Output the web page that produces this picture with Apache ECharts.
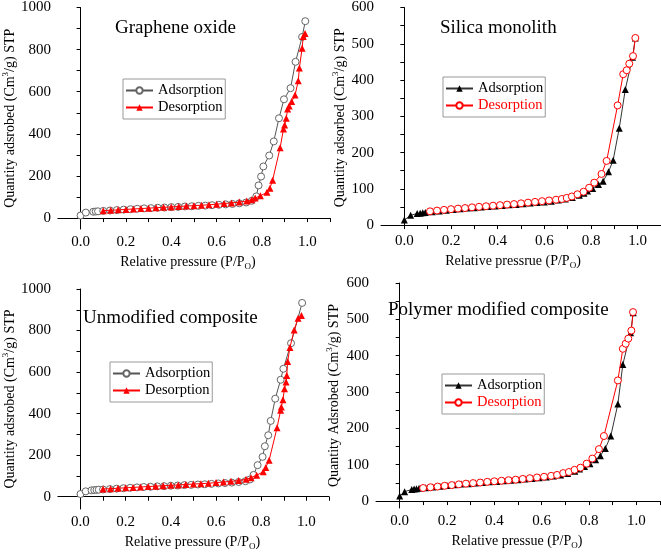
<!DOCTYPE html>
<html>
<head>
<meta charset="utf-8">
<script src="https://cdn.jsdelivr.net/npm/echarts@6/dist/echarts.min.js"></script>
<style>html,body{margin:0;padding:0;background:#fff}#c{width:661px;height:552px}</style>
</head>
<body>
<div id="c"></div>
<script>
// ---------- data ----------
const titles = ['Graphene oxide', 'Silica monolith', 'Unmodified composite', 'Polymer modified composite'];
const xTickValues = [0, 0.1, 0.2, 0.3, 0.4, 0.5, 0.6, 0.7, 0.8, 0.9, 1.0, 1.1];
const xLabelValues = [0, 0.2, 0.4, 0.6, 0.8, 1.0];
const yTickValuesA = [0, 100, 200, 300, 400, 500, 600, 700, 800, 900, 1000];
const yLabelValuesA = [0, 200, 400, 600, 800, 1000];
const yTickValuesB = [0, 50, 100, 150, 200, 250, 300, 350, 400, 450, 500, 550, 600];
const yLabelValuesB = [0, 100, 200, 300, 400, 500, 600];

// Panel 1: Graphene oxide
const goAdsP = [0.000, 0.023, 0.056, 0.067, 0.077, 0.10, 0.13, 0.16, 0.19, 0.22, 0.25, 0.28, 0.31, 0.34, 0.37, 0.40, 0.43, 0.46, 0.49, 0.52, 0.55, 0.58, 0.61, 0.64, 0.67, 0.70, 0.73, 0.755, 0.775, 0.785, 0.796, 0.806, 0.832, 0.852, 0.875, 0.897, 0.926, 0.948, 0.977, 0.991];
const goAdsV = [12, 26, 30, 31, 32, 34, 36, 38, 40, 42, 44, 46, 47, 49, 50, 52, 53, 55, 56, 58, 59, 61, 63, 65, 67, 70, 74, 82, 103, 155, 197, 245, 297, 364, 474, 564, 617, 742, 860, 935];
const goDesP = [0.10, 0.133, 0.166, 0.20, 0.233, 0.266, 0.30, 0.333, 0.366, 0.40, 0.433, 0.466, 0.50, 0.533, 0.566, 0.60, 0.633, 0.666, 0.70, 0.733, 0.755, 0.77, 0.793, 0.822, 0.835, 0.847, 0.88, 0.895, 0.90, 0.907, 0.913, 0.92, 0.931, 0.946, 0.96, 0.965, 0.977, 0.982, 0.99];
const goDesV = [35, 37, 39, 41, 43, 45, 47, 49, 51, 53, 55, 57, 59, 61, 63, 66, 69, 72, 76, 81, 87, 95, 106, 122, 142, 180, 334, 423, 442, 474, 518, 532, 553, 584, 652, 713, 806, 862, 876];

// Panel 2: Silica monolith
const smAdsP = [0.000, 0.027, 0.055, 0.068, 0.079, 0.09, 0.12, 0.15, 0.18, 0.21, 0.24, 0.27, 0.30, 0.33, 0.36, 0.39, 0.42, 0.45, 0.48, 0.51, 0.54, 0.57, 0.60, 0.63, 0.66, 0.69, 0.72, 0.75, 0.77, 0.785, 0.807, 0.832, 0.852, 0.875, 0.895, 0.921, 0.947, 0.978, 0.99];
const smAdsV = [14, 27, 32, 33, 34, 35, 37, 39, 41, 43, 45, 47, 48, 50, 51, 53, 54, 56, 57, 59, 61, 62, 64, 66, 69, 72, 76, 82, 88, 94, 101, 112, 121, 147, 179, 267, 374, 463, 516];
const smDesP = [0.11, 0.14, 0.17, 0.20, 0.23, 0.26, 0.29, 0.32, 0.35, 0.38, 0.41, 0.44, 0.47, 0.50, 0.53, 0.56, 0.59, 0.62, 0.65, 0.675, 0.696, 0.718, 0.742, 0.768, 0.792, 0.814, 0.845, 0.867, 0.914, 0.938, 0.953, 0.964, 0.98, 0.99];
const smDesV = [38, 40, 42, 44, 45.5, 47, 49, 50.5, 52, 53.5, 55, 56.5, 58, 60, 62, 64, 66, 68, 70, 72, 75, 79, 85, 92, 103, 117, 141, 177, 330, 416, 427, 445, 466, 516];

// Panel 3: Unmodified composite
const umAdsP = [0.000, 0.023, 0.049, 0.061, 0.071, 0.081, 0.10, 0.13, 0.16, 0.19, 0.22, 0.25, 0.28, 0.31, 0.34, 0.37, 0.40, 0.43, 0.46, 0.49, 0.52, 0.55, 0.58, 0.61, 0.64, 0.67, 0.70, 0.73, 0.75, 0.766, 0.784, 0.806, 0.816, 0.831, 0.842, 0.862, 0.886, 0.898, 0.932, 0.981];
const umAdsV = [13, 26, 31, 32, 33, 34, 35, 37, 39, 41, 43, 45, 47, 48, 50, 51, 53, 54, 56, 57, 59, 60, 62, 64, 66, 68, 71, 75, 83, 105, 152, 192, 243, 296, 365, 472, 563, 616, 739, 933];
const umDesP = [0.10, 0.133, 0.166, 0.20, 0.233, 0.266, 0.30, 0.333, 0.366, 0.40, 0.433, 0.466, 0.50, 0.533, 0.566, 0.60, 0.633, 0.666, 0.70, 0.733, 0.755, 0.78, 0.809, 0.82, 0.835, 0.87, 0.886, 0.889, 0.896, 0.903, 0.91, 0.913, 0.917, 0.927, 0.946, 0.963, 0.978];
const umDesV = [37, 39, 41, 43, 45, 47, 49, 51, 53, 55, 57, 59, 61, 63, 65, 68, 71, 74, 78, 84, 92, 104, 120, 141, 176, 332, 416, 432, 467, 520, 552, 584, 651, 718, 803, 859, 872];

// Panel 4: Polymer modified composite
const pmAdsP = [0.000, 0.021, 0.051, 0.061, 0.071, 0.082, 0.11, 0.14, 0.17, 0.20, 0.23, 0.26, 0.29, 0.32, 0.35, 0.38, 0.41, 0.44, 0.47, 0.50, 0.53, 0.56, 0.59, 0.62, 0.65, 0.68, 0.71, 0.74, 0.76, 0.781, 0.804, 0.828, 0.848, 0.869, 0.892, 0.922, 0.943, 0.976, 0.987];
const pmAdsV = [14, 26, 32, 33, 34, 35, 37, 39, 41, 43, 45, 47, 48, 50, 51, 53, 54, 56, 57, 59, 61, 62, 64, 66, 69, 72, 76, 82, 88, 95, 103, 114, 125, 145, 179, 267, 376, 463, 518];
const pmDesP = [0.099, 0.13, 0.16, 0.19, 0.22, 0.25, 0.28, 0.31, 0.34, 0.37, 0.40, 0.43, 0.46, 0.49, 0.52, 0.55, 0.58, 0.61, 0.64, 0.665, 0.691, 0.715, 0.739, 0.764, 0.79, 0.814, 0.842, 0.863, 0.922, 0.943, 0.955, 0.966, 0.979, 0.986];
const pmDesV = [36, 38, 40, 42, 44, 46, 48, 49.5, 51, 53, 54.5, 56, 57.5, 59, 61, 63, 65, 67, 69.5, 72, 77, 80, 86, 92, 103, 117, 143, 179, 332, 419, 433, 447, 469, 520];

const xNames = ['Relative pressure', 'Relative pressrue', 'Relative pressure', 'Relative pressue'];
const yNames = ['Quantity adsrobed', 'Quantity adsorbed', 'Quantity adsrobed', 'Quantity Adsrobed'];

// ---------- build ----------
const FONT = '"Liberation Serif", "Times New Roman", serif';
const zip = (a, b) => a.map((v, i) => [v, b[i]]);

const grids = [
  {left: 53, top: 7, width: 277, height: 222},
  {left: 381, top: 7, width: 280, height: 221},
  {left: 52, top: 289, width: 277, height: 221},
  {left: 376, top: 283, width: 284, height: 225}
];
const yRanges = [[-52, 1000], [-8, 600], [-59, 1000], [-19, 600]];
const yTicks = [yTickValuesA, yTickValuesB, yTickValuesA, yTickValuesB];
const yLabels = [yLabelValuesA, yLabelValuesB, yLabelValuesA, yLabelValuesB];
const xNameShift = [12, 16, 2, 2];

const nameRich = {
  n: {fontFamily: FONT, fontSize: 14, color: '#000', lineHeight: 18, verticalAlign: 'middle'},
  sub: {fontFamily: FONT, fontSize: 9, color: '#000', lineHeight: 9, verticalAlign: 'bottom'},
  sup: {fontFamily: FONT, fontSize: 9, color: '#000', lineHeight: 9, verticalAlign: 'top'}
};

const axisCommon = {
  axisLine: {show: true, lineStyle: {color: '#000', width: 1}},
  axisTick: {show: true, inside: false, length: 4, lineStyle: {color: '#000', width: 1}},
  splitLine: {show: false},
  nameLocation: 'middle'
};

const xAxes = grids.map((g, i) => Object.assign({}, axisCommon, {
  type: 'value', gridIndex: i, min: -0.1, max: 1.1,
  axisTick: Object.assign({}, axisCommon.axisTick, {customValues: xTickValues}),
  axisLabel: {customValues: xLabelValues, fontFamily: FONT, fontSize: 15, color: '#000', margin: 6,
    formatter: v => v.toFixed(1)},
  name: '{n|' + xNames[i] + ' (P/P}{sub|O}{n|)}',
  nameTextStyle: {rich: nameRich, padding: [0, xNameShift[i], 0, 0]},
  nameGap: 24
}));

const yAxes = grids.map((g, i) => Object.assign({}, axisCommon, {
  type: 'value', gridIndex: i, min: yRanges[i][0], max: yRanges[i][1],
  axisTick: Object.assign({}, axisCommon.axisTick, {customValues: yTicks[i]}),
  axisLabel: {customValues: yLabels[i], fontFamily: FONT, fontSize: 15, color: '#000', margin: 7,
    formatter: v => String(v)},
  name: '{n|' + yNames[i] + ' (Cm}{sup|3}{n|/g) STP}',
  nameTextStyle: {rich: nameRich},
  nameGap: [31, 30, 31, 33][i]
}));

const greyCircle = {symbol: 'circle', symbolSize: 7, lineStyle: {color: '#555', width: 1},
  itemStyle: {color: '#fff', borderColor: '#666', borderWidth: 1}};
const redTri = {symbol: 'triangle', symbolSize: 7, lineStyle: {color: '#ff0000', width: 1},
  itemStyle: {color: '#ff0000', borderWidth: 0}};
const blackTri = {symbol: 'triangle', symbolSize: 7, lineStyle: {color: '#333', width: 1},
  itemStyle: {color: '#000', borderWidth: 0}};
const redCircle = {symbol: 'circle', symbolSize: 7, lineStyle: {color: '#ff0000', width: 1},
  itemStyle: {color: '#fff', borderColor: '#ff0000', borderWidth: 1}};

const panels = [
  {key: 'GO', ads: zip(goAdsP, goAdsV), des: zip(goDesP, goDesV), a: greyCircle, d: redTri, redText: false},
  {key: 'SM', ads: zip(smAdsP, smAdsV), des: zip(smDesP, smDesV), a: blackTri, d: redCircle, redText: true},
  {key: 'UM', ads: zip(umAdsP, umAdsV), des: zip(umDesP, umDesV), a: greyCircle, d: redTri, redText: false},
  {key: 'PM', ads: zip(pmAdsP, pmAdsV), des: zip(pmDesP, pmDesV), a: blackTri, d: redCircle, redText: true}
];

const series = [];
panels.forEach((p, i) => {
  series.push(Object.assign({type: 'line', name: p.key + ' Adsorption', xAxisIndex: i, yAxisIndex: i,
    data: p.ads, showAllSymbol: true, z: 2}, p.a));
  series.push(Object.assign({type: 'line', name: p.key + ' Desorption', xAxisIndex: i, yAxisIndex: i,
    data: p.des, showAllSymbol: true, z: 3}, p.d));
});

const legendPos = [[123, 79], [443, 77], [110, 362], [442, 374]];
const legends = panels.map((p, i) => ({
  left: legendPos[i][0], top: legendPos[i][1], orient: 'vertical',
  itemWidth: 27, itemHeight: 8, itemGap: 2, padding: [4, 2, 4, 2],
  borderColor: '#999', borderWidth: 1, backgroundColor: '#fff',
  selectedMode: false,
  textStyle: {fontFamily: FONT, fontSize: 14.5, color: '#000', lineHeight: 15},
  formatter: name => name.split(' ')[1],
  data: [
    {name: p.key + ' Adsorption'},
    {name: p.key + ' Desorption', textStyle: {color: p.redText ? '#ff0000' : '#000'}}
  ]
}));

const titlePos = [[115, 19], [440, 19], [83, 309], [388, 301]];
const titleComps = titles.map((t, i) => ({
  text: t, left: titlePos[i][0], top: titlePos[i][1], padding: 0,
  textStyle: {fontFamily: FONT, fontSize: 19, fontWeight: 'normal', color: '#000'}
}));

const chart = echarts.init(document.getElementById('c'), null, {renderer: 'canvas'});
chart.setOption({
  animation: false,
  backgroundColor: '#fff',
  title: titleComps,
  grid: grids,
  xAxis: xAxes,
  yAxis: yAxes,
  legend: legends,
  series: series
});
</script>
</body>
</html>
